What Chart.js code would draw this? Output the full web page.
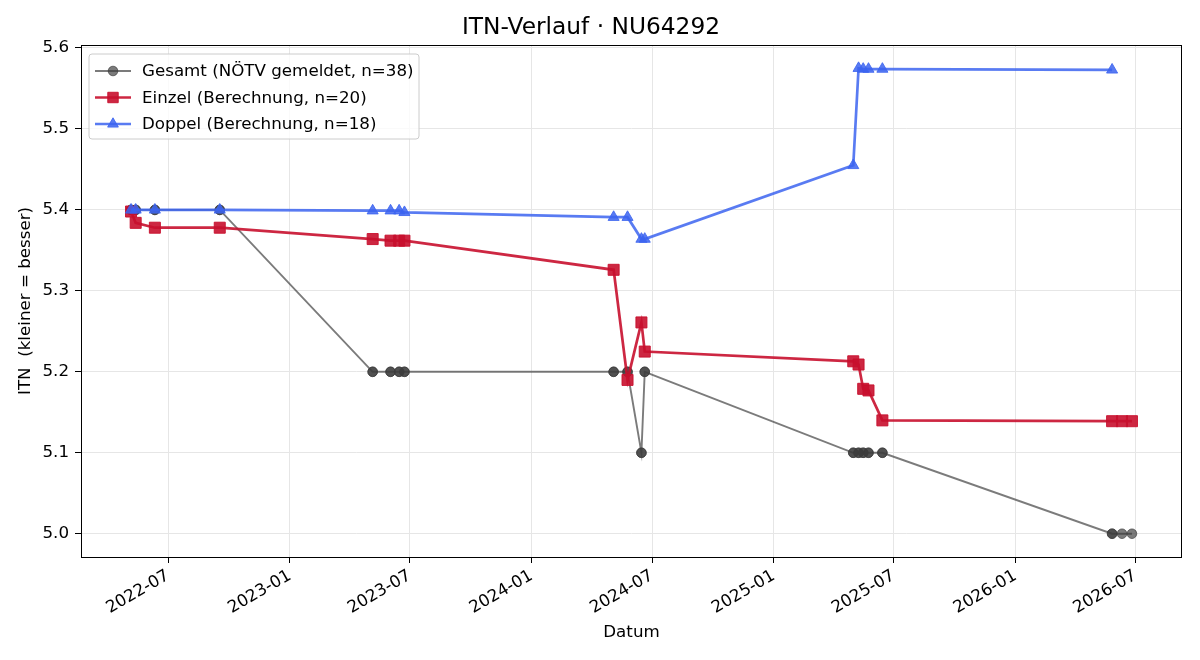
<!DOCTYPE html>
<html><head><meta charset="utf-8">
<script src="https://cdn.jsdelivr.net/npm/chart.js@4.4.1/dist/chart.umd.min.js"></script>
<style>html,body{margin:0;padding:0;background:#fff}</style>
</head><body>
<canvas id="c" width="1200" height="660"></canvas>
<script>
// ---- data ----
const gesamtDates = [
  '2022-05-06','2022-05-06','2022-05-13','2022-05-13','2022-06-11','2022-06-11','2022-09-17','2022-09-17',
  '2023-05-06','2023-05-06','2023-06-02','2023-06-02','2023-06-15','2023-06-15','2023-06-23','2023-06-23',
  '2024-05-04','2024-05-04','2024-05-25','2024-05-25','2024-06-15','2024-06-15','2024-06-20','2024-06-20',
  '2025-05-01','2025-05-01','2025-05-09','2025-05-09','2025-05-16','2025-05-16','2025-05-24','2025-05-24',
  '2025-06-14','2025-06-14','2026-05-27','2026-05-27','2026-06-11','2026-06-26'];
const gesamtValues = [
  5.4,5.4,5.4,5.4,5.4,5.4,5.4,5.4,
  5.2,5.2,5.2,5.2,5.2,5.2,5.2,5.2,
  5.2,5.2,5.2,5.2,5.1,5.1,5.2,5.2,
  5.1,5.1,5.1,5.1,5.1,5.1,5.1,5.1,
  5.1,5.1,5.0,5.0,5.0,5.0];
const einzelDates = [
  '2022-05-06','2022-05-13','2022-06-11','2022-09-17','2023-05-06','2023-06-02','2023-06-15','2023-06-23',
  '2024-05-04','2024-05-25','2024-06-15','2024-06-20','2025-05-01','2025-05-09','2025-05-16','2025-05-24',
  '2025-06-14','2026-05-27','2026-06-11','2026-06-26'];
const einzelValues = [
  5.398,5.384,5.378,5.378,5.364,5.362,5.362,5.362,
  5.326,5.190,5.261,5.225,5.213,5.209,5.179,5.177,
  5.140,5.139,5.139,5.139];
const doppelDates = [
  '2022-05-06','2022-05-13','2022-06-11','2022-09-17','2023-05-06','2023-06-02','2023-06-15','2023-06-23',
  '2024-05-04','2024-05-25','2024-06-15','2024-06-20','2025-05-01','2025-05-09','2025-05-16','2025-05-24',
  '2025-06-14','2026-05-27'];
const doppelValues = [
  5.400,5.400,5.400,5.400,5.399,5.399,5.399,5.397,
  5.391,5.391,5.364,5.364,5.455,5.575,5.574,5.574,
  5.574,5.573];
const xTickLabels = ['2022-07','2023-01','2023-07','2024-01','2024-07','2025-01','2025-07','2026-01','2026-07'];
const yTickValues = [5.0,5.1,5.2,5.3,5.4,5.5,5.6];
const seriesLabels = ['Gesamt (NÖTV gemeldet, n=38)','Einzel (Berechnung, n=20)','Doppel (Berechnung, n=18)'];

// ---- helpers ----
const toMs = s => { const p = s.split('-').map(Number); return Date.UTC(p[0], p[1]-1, p[2] || 1); };
const pts = (d, v) => d.map((s, i) => ({x: toMs(s), y: v[i]}));
const allX = [...gesamtDates, ...einzelDates, ...doppelDates].map(toMs);
const allY = [...gesamtValues, ...einzelValues, ...doppelValues];
const xMinD = Math.min(...allX), xMaxD = Math.max(...allX);
const yMinD = Math.min(...allY), yMaxD = Math.max(...allY);
const xm = (xMaxD - xMinD) * 0.05, ym = (yMaxD - yMinD) * 0.05;

const FONT = "'DejaVu Sans'";
const FS = 16.7;
Chart.defaults.font.family = FONT;
Chart.defaults.color = '#000';

const C_G = 'rgba(60,60,60,0.68)';
const C_E = 'rgba(200,16,46,0.9)';
const C_D = 'rgba(60,100,240,0.85)';

const frame = {
  id: 'frame',
  afterDraw(chart) {
    const {ctx, chartArea: a} = chart;
    ctx.save();
    ctx.strokeStyle = '#000'; ctx.lineWidth = 1;
    ctx.strokeRect(Math.round(a.left) + 0.5, Math.round(a.top) + 0.5, Math.round(a.right - a.left) - 1, Math.round(a.bottom - a.top));
    // legend
    const bx = 89, by = 54, bw = 330, bh = 85, r = 3;
    ctx.beginPath();
    ctx.moveTo(bx + r, by); ctx.arcTo(bx + bw, by, bx + bw, by + bh, r);
    ctx.arcTo(bx + bw, by + bh, bx, by + bh, r); ctx.arcTo(bx, by + bh, bx, by, r);
    ctx.arcTo(bx, by, bx + bw, by, r); ctx.closePath();
    ctx.fillStyle = 'rgba(255,255,255,0.8)'; ctx.fill();
    ctx.strokeStyle = '#cccccc'; ctx.lineWidth = 1; ctx.stroke();
    const rows = [71, 97.5, 124];
    chart.data.datasets.forEach((ds, i) => {
      const y = rows[i];
      ctx.strokeStyle = ds.borderColor; ctx.lineWidth = ds.borderWidth;
      ctx.beginPath(); ctx.moveTo(95, y); ctx.lineTo(131, y); ctx.stroke();
      ctx.fillStyle = ds.pointBackgroundColor; ctx.strokeStyle = ds.pointBorderColor; ctx.lineWidth = 1;
      Chart.helpers.drawPoint(ctx, {pointStyle: ds.pointStyle, radius: ds.legendRadius, borderWidth: 1, rotation: 0}, 113, y);
      ctx.fillStyle = '#000'; ctx.font = FS + 'px ' + FONT; ctx.textBaseline = 'middle'; ctx.textAlign = 'left';
      ctx.fillText(ds.label, 142, y + 1);
    });
    ctx.restore();
  }
};

const mk = (label, data, color, style, radius, legendRadius, width, order) => ({
  label, data, borderColor: color, backgroundColor: color,
  pointBackgroundColor: color, pointBorderColor: color, pointBorderWidth: 1,
  pointStyle: style, pointRadius: radius, pointHoverRadius: radius, legendRadius,
  borderWidth: width, tension: 0, order, fill: false
});

new Chart(document.getElementById('c'), {
  type: 'line',
  data: {
    datasets: [
      mk(seriesLabels[0], pts(gesamtDates, gesamtValues), C_G, 'circle', 4.8, 4.8, 1.9, 3),
      mk(seriesLabels[1], pts(einzelDates, einzelValues), C_E, 'rect', 7.8, 7.4, 2.7, 2),
      mk(seriesLabels[2], pts(doppelDates, doppelValues), C_D, 'triangle', 6.4, 6.2, 2.7, 1)
    ]
  },
  options: {
    responsive: false, animation: false, devicePixelRatio: 1,
    layout: {padding: {left: 0, right: 18, top: 0, bottom: 0}},
    plugins: {
      legend: {display: false}, tooltip: {enabled: false},
      title: {display: true, text: 'ITN-Verlauf · NU64292', font: {size: 23.3, weight: 'normal', family: FONT, lineHeight: 1.2}, color: '#000', padding: {top: 14, bottom: 3}}
    },
    scales: {
      x: {
        type: 'linear', min: xMinD - xm, max: xMaxD + xm,
        afterBuildTicks: s => { s.ticks = xTickLabels.map(l => ({value: toMs(l)})); },
        afterFit: s => { s.height = 103; },
        ticks: {
          autoSkip: false, minRotation: 30, maxRotation: 30, padding: 3,
          font: {size: FS}, color: '#000',
          callback: v => { const d = new Date(v); return d.getUTCFullYear() + '-' + String(d.getUTCMonth() + 1).padStart(2, '0'); }
        },
        grid: {color: '#e6e6e6', lineWidth: 1, tickColor: '#000', tickLength: 6},
        border: {display: false},
        title: {display: true, text: 'Datum', font: {size: FS, lineHeight: 1.2}, color: '#000', padding: {top: 0, bottom: 17}}
      },
      y: {
        type: 'linear', min: yMinD - ym, max: yMaxD + ym,
        afterBuildTicks: s => { s.ticks = yTickValues.map(v => ({value: v})); },
        afterFit: s => { s.width = 81; },
        ticks: {font: {size: FS}, color: '#000', padding: 6, callback: v => Number(v).toFixed(1)},
        grid: {color: '#e6e6e6', lineWidth: 1, tickColor: '#000', tickLength: 6},
        border: {display: false},
        title: {display: true, text: 'ITN  (kleiner = besser)', font: {size: FS, lineHeight: 1.2}, color: '#000', padding: {top: 16, bottom: 0}}
      }
    }
  },
  plugins: [frame]
});
</script>
</body></html>
